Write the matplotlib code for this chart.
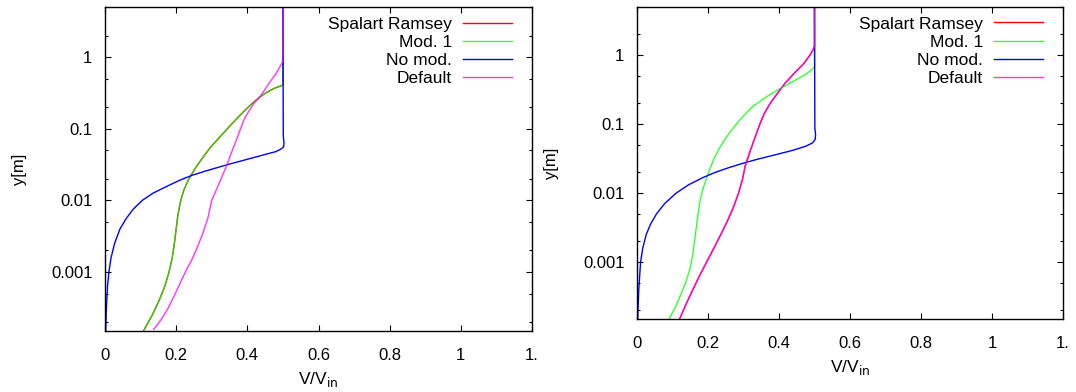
import matplotlib
matplotlib.use("Agg")
import matplotlib.pyplot as plt
from matplotlib.ticker import FixedLocator, NullFormatter

plt.rcParams['font.family'] = ['Liberation Sans', 'DejaVu Sans']
plt.rcParams['font.size'] = 12

# ---------------- data ----------------
labels = ["Spalart Ramsey", "Mod. 1", "No mod.", "Default"]
colors = ["#ff0000", "#00ff00", "#0000ff", "#ff00ff"]
alphas = [1.0, 0.8, 1.0, 0.8]

# Left panel -----------------------------------------------------
left_nomod_y = [1.5e-4, 3.16e-4, 6.31e-4, 1e-3, 1.58e-3, 2.51e-3, 3.98e-3, 5.62e-3,
                7.59e-3, 0.01, 0.0126, 0.0158, 0.0191, 0.0224, 0.0263, 0.0316, 0.038,
                0.0437, 0.0479, 0.0525, 0.0562, 0.0631, 0.0794, 5]
left_nomod_v = [0.002, 0.004, 0.007, 0.011, 0.017, 0.027, 0.042, 0.060,
                0.080, 0.105, 0.135, 0.175, 0.210, 0.245, 0.290, 0.345, 0.405,
                0.450, 0.480, 0.496, 0.502, 0.503, 0.501, 0.5]

left_mod1_y = [1.5e-4, 2.51e-4, 3.98e-4, 6.31e-4, 1e-3, 1.58e-3, 2.51e-3, 3.98e-3,
               6.31e-3, 0.01, 0.0141, 0.02, 0.0282, 0.0398, 0.0562, 0.0871, 0.112,
               0.141, 0.178, 0.224, 0.269, 0.316, 0.363, 0.407, 5]
left_mod1_v = [0.108, 0.133, 0.152, 0.168, 0.180, 0.189, 0.195, 0.200,
               0.205, 0.213, 0.222, 0.236, 0.254, 0.275, 0.298, 0.333, 0.353,
               0.372, 0.392, 0.413, 0.432, 0.452, 0.474, 0.500, 0.5]
left_sr_y = left_mod1_y
left_sr_v = left_mod1_v

left_def_y = [1.58e-4, 2.24e-4, 3.16e-4, 4.47e-4, 6.31e-4, 1e-3, 1.48e-3, 2.24e-3,
              3.47e-3, 5.62e-3, 0.01, 0.0178, 0.0316, 0.0501, 0.0708, 0.1, 0.141,
              0.178, 0.224, 0.282, 0.355, 0.447, 0.562, 0.708, 0.871, 5]
left_def_v = [0.137, 0.160, 0.178, 0.193, 0.207, 0.226, 0.244, 0.260,
              0.275, 0.289, 0.300, 0.322, 0.343, 0.358, 0.370, 0.381, 0.393,
              0.405, 0.418, 0.436, 0.450, 0.463, 0.478, 0.490, 0.500, 0.5]

# Right panel ----------------------------------------------------
right_nomod_y = [1.5e-4, 3.98e-4, 1e-3, 1.58e-3, 2.51e-3, 3.55e-3, 5.01e-3, 7.08e-3,
                 0.01, 0.0132, 0.0166, 0.02, 0.0234, 0.0275, 0.0316, 0.0363, 0.0417,
                 0.0479, 0.0537, 0.0603, 0.0708, 0.0891, 5]
right_nomod_v = [0.002, 0.005, 0.010, 0.016, 0.026, 0.038, 0.055, 0.078,
                 0.110, 0.145, 0.183, 0.220, 0.258, 0.302, 0.345, 0.392, 0.438,
                 0.475, 0.495, 0.502, 0.503, 0.501, 0.5]

right_mod1_y = [1.5e-4, 2.24e-4, 3.16e-4, 5.01e-4, 7.94e-4, 1.26e-3, 2.0e-3, 3.16e-3,
                5.01e-3, 7.94e-3, 0.0112, 0.0158, 0.0224, 0.0316, 0.0447, 0.0631,
                0.0891, 0.126, 0.178, 0.251, 0.316, 0.398, 0.501, 0.603, 0.676, 5]
right_mod1_v = [0.091, 0.108, 0.121, 0.137, 0.149, 0.157, 0.162, 0.167,
                0.172, 0.178, 0.185, 0.195, 0.205, 0.217, 0.232, 0.250,
                0.272, 0.296, 0.325, 0.365, 0.398, 0.432, 0.468, 0.490, 0.500, 0.5]

right_def_y = [1.5e-4, 2.51e-4, 3.98e-4, 6.31e-4, 1e-3, 1.58e-3, 2.51e-3, 3.98e-3,
               6.31e-3, 0.01, 0.0158, 0.0251, 0.0398, 0.0631, 0.1, 0.141, 0.2,
               0.282, 0.398, 0.562, 0.759, 1.0, 1.2, 1.35, 5]
right_def_v = [0.120, 0.139, 0.157, 0.176, 0.196, 0.216, 0.236, 0.255,
               0.272, 0.286, 0.297, 0.305, 0.318, 0.332, 0.346, 0.358, 0.375,
               0.396, 0.418, 0.445, 0.470, 0.487, 0.496, 0.500, 0.5]
right_sr_y = right_def_y
right_sr_v = right_def_v

x_ticks = [0, 0.2, 0.4, 0.6, 0.8, 1.0, 1.2]
x_ticklabels = ["0", "0.2", "0.4", "0.6", "0.8", "1", "1."]
y_ticks = [0.001, 0.01, 0.1, 1]
y_ticklabels = ["0.001", "0.01", "0.1", "1"]
y_minor = [2e-4, 5e-4, 2e-3, 5e-3, 2e-2, 5e-2, 0.2, 0.5, 2, 5]

# ---------------- figure ----------------
fig = plt.figure(figsize=(10.76, 3.92), dpi=100)
W, H = 1076, 392
ax_l = fig.add_axes([105 / W, 1 - 331 / H, 427 / W, 324 / H])
ax_r = fig.add_axes([637 / W, 1 - 319 / H, 426 / W, 312 / H])

panels = [
    (ax_l, [(left_sr_v, left_sr_y), (left_mod1_v, left_mod1_y),
            (left_nomod_v, left_nomod_y), (left_def_v, left_def_y)]),
    (ax_r, [(right_sr_v, right_sr_y), (right_mod1_v, right_mod1_y),
            (right_nomod_v, right_nomod_y), (right_def_v, right_def_y)]),
]

for ax, series in panels:
    for (v, y), lab, c, a in zip(series, labels, colors, alphas):
        ax.plot(v, y, color=c, lw=1.0, alpha=a, label=lab)
    ax.set_yscale('log')
    ax.set_xlim(0, 1.2)
    ax.set_ylim(1.5e-4, 5.0)
    ax.xaxis.set_major_locator(FixedLocator(x_ticks))
    ax.set_xticklabels(x_ticklabels)
    ax.yaxis.set_major_locator(FixedLocator(y_ticks))
    ax.set_yticklabels(y_ticklabels)
    ax.yaxis.set_minor_locator(FixedLocator(y_minor))
    ax.yaxis.set_minor_formatter(NullFormatter())
    ax.xaxis.set_minor_locator(FixedLocator([]))
    ax.tick_params(which='major', direction='in', length=4, width=0.8,
                   top=True, right=True, labelsize=12)
    ax.tick_params(axis='x', which='major', pad=12)
    ax.tick_params(axis='y', which='major', pad=9)
    ax.tick_params(which='minor', direction='in', length=2.2, width=0.8,
                   top=False, right=True, left=True)
    for s in ax.spines.values():
        s.set_linewidth(1.0)
    ax.set_ylabel("y[m]", fontsize=12, labelpad=17)
    ax.set_xlabel("V/V$_{\\mathrm{in}}$", fontsize=12.5, labelpad=5)
    ax.legend(loc='upper right', bbox_to_anchor=(0.952, 0.970), frameon=False,
              markerfirst=False, handlelength=2.8, handletextpad=0.62,
              labelspacing=0.17, borderpad=0.0, borderaxespad=0.0, fontsize=12.5)

fig.savefig("out.png", dpi=100)
